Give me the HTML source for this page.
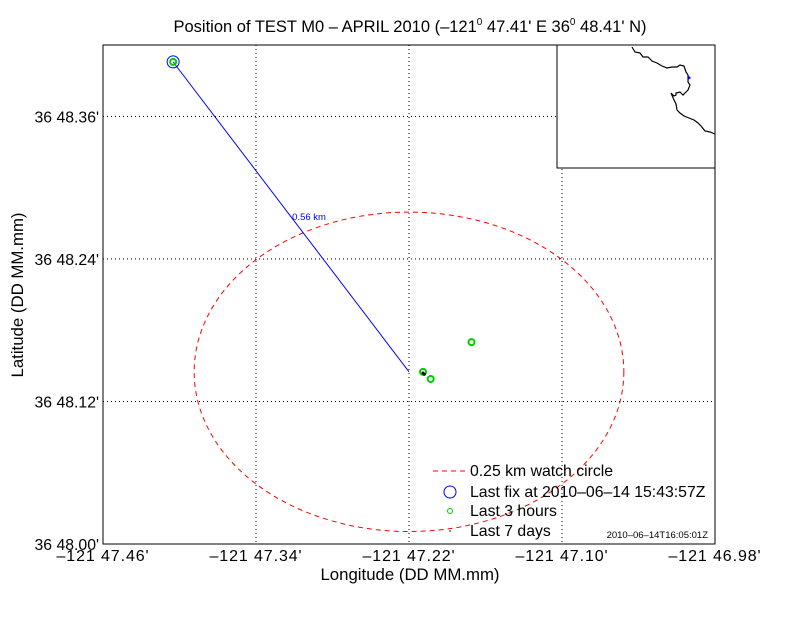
<!DOCTYPE html>
<html><head><meta charset="utf-8"><style>
body{margin:0;background:#fff}
svg text{font-family:"Liberation Sans",sans-serif}
</style></head><body>
<svg id="chart" width="792" height="612" viewBox="0 0 792 612" xmlns="http://www.w3.org/2000/svg">
<rect width="792" height="612" fill="#fff"/>
<text x="410" y="32" font-size="16.5" text-anchor="middle">Position of TEST M0 – APRIL 2010 (–121<tspan font-size="10" dy="-7">0</tspan><tspan dy="7"> 47.41' E  36</tspan><tspan font-size="10" dy="-7">0</tspan><tspan dy="7"> 48.41' N)</tspan></text>
<g id="grid"></g>
<g id="marks"></g>
<rect x="103" y="45" width="612" height="499" fill="none" stroke="#000" stroke-width="1"/>
<g id="ticks"></g>
<text x="410" y="580" font-size="16.8" text-anchor="middle">Longitude (DD MM.mm)</text>
<text transform="translate(23,295) rotate(-90)" font-size="16.8" text-anchor="middle">Latitude (DD MM.mm)</text>
<g>
<rect x="557" y="45" width="158" height="123" fill="#fff" stroke="#000"/>
<polyline fill="none" stroke="#000" stroke-width="1.2" points="632,47 635,52 640,53 643,57 648,57 652,61 657,63 662,66 667,68 672,67 677,67 680,65 684,66 686,72 688,75 688,82 690,85 688,90 685,93 683,95 680,92 676,93 676,95 674,96 671,93 674,100 676,104 677,110 680,113 684,116 689,118 694,120 698,123 701,126 705,131 710,132 715,134"/>
<polygon points="688,75 691,78 688,80" fill="#00f"/>
</g>
<g>
<line x1="433" y1="471" x2="465" y2="471" stroke="#f00" stroke-dasharray="5,4"/>
<text x="470" y="476" font-size="15.8">0.25 km watch circle</text>
<circle cx="450" cy="492" r="6" fill="none" stroke="#00f"/>
<text x="470" y="497" font-size="15.8">Last fix at 2010–06–14 15:43:57Z</text>
<circle cx="450" cy="511" r="2.5" fill="none" stroke="#0c0"/>
<text x="470" y="516" font-size="15.8">Last 3 hours</text>
<circle cx="450" cy="531" r="0.8" fill="#000"/>
<text x="470" y="536" font-size="15.8">Last 7 days</text>
<text x="708" y="538" font-size="9.5" text-anchor="end">2010–06–14T16:05:01Z</text>
</g>
</svg>
<script>
const xTicks=[-47.46,-47.34,-47.22,-47.10,-46.98];
const xTickLabels=["–121 47.46'","–121 47.34'","–121 47.22'","–121 47.10'","–121 46.98'"];
const yTicks=[48.00,48.12,48.24,48.36];
const yTickLabels=["36 48.00'","36 48.12'","36 48.24'","36 48.36'"];
const lastFix=[-47.405,48.406];
const watchCenter=[-47.22,48.145];
const watchRadiusX=[0.1685];
const watchRadiusY=[0.1345];
const last3hLon=[-47.209,-47.203,-47.171,-47.405];
const last3hLat=[48.145,48.139,48.170,48.406];
const last7dLon=[-47.209,-47.208];
const last7dLat=[48.144,48.143];
const distLabel=["0.56 km"];
const X0=103,X1=715,Y0=544,Y1=45;
const xs=v=>X0+(v-(-47.46))/(0.48)*(X1-X0);
const ys=v=>Y0-(v-48.00)/(0.12)*142.5;
const NS="http://www.w3.org/2000/svg";
function mk(p,t,a){const e=document.createElementNS(NS,t);for(const k in a)e.setAttribute(k,a[k]);p.appendChild(e);return e;}
const grid=document.getElementById('grid'),ticks=document.getElementById('ticks'),marks=document.getElementById('marks');
xTicks.forEach((v,i)=>{const x=xs(v);
 if(i>0&&i<xTicks.length-1){const l=mk(grid,'line',{x1:x,x2:x,y1:Y1,y2:Y0,stroke:'#000','stroke-dasharray':'1,3'});
 
 }
 const t=mk(ticks,'text',{x:x,y:Y0+17,'font-size':16,'letter-spacing':0.9,'text-anchor':'middle'});t.textContent=xTickLabels[i];
 
 });
yTicks.forEach((v,i)=>{const y=ys(v);
 if(i>0){const l=mk(grid,'line',{x1:X0,x2:X1,y1:y,y2:y,stroke:'#000','stroke-dasharray':'1,3'});
 
 }
 const t=mk(ticks,'text',{x:X0-4,y:y+6,'font-size':15.8,'text-anchor':'end'});t.textContent=yTickLabels[i];
 
 });
const cx=xs(watchCenter[0]),cy=ys(watchCenter[1]);
const el=mk(marks,'ellipse',{cx:cx,cy:cy,rx:watchRadiusX[0]/0.48*612,ry:watchRadiusY[0]/0.12*142.5,fill:'none',stroke:'#f00','stroke-dasharray':'5,4'});


const fx=xs(lastFix[0]),fy=ys(lastFix[1]);
const ln=mk(marks,'line',{x1:fx,y1:fy,x2:cx,y2:cy,stroke:'#00f'});


const dl=mk(marks,'text',{x:(fx+cx)/2+18,y:(fy+cy)/2+3,'font-size':9.5,fill:'#00f','text-anchor':'middle'});dl.textContent=distLabel[0];


last3hLon.forEach((v,i)=>{const c=mk(marks,'circle',{cx:xs(v),cy:ys(last3hLat[i]),r:3,fill:'none',stroke:'#0c0','stroke-width':2});
 
 });
last7dLon.forEach((v,i)=>{const c=mk(marks,'circle',{cx:xs(v),cy:ys(last7dLat[i]),r:1.5,fill:'#000'});
 
 });
const fc=mk(marks,'circle',{cx:fx,cy:fy,r:6,fill:'none',stroke:'#00f'});


</script>
</body></html>
